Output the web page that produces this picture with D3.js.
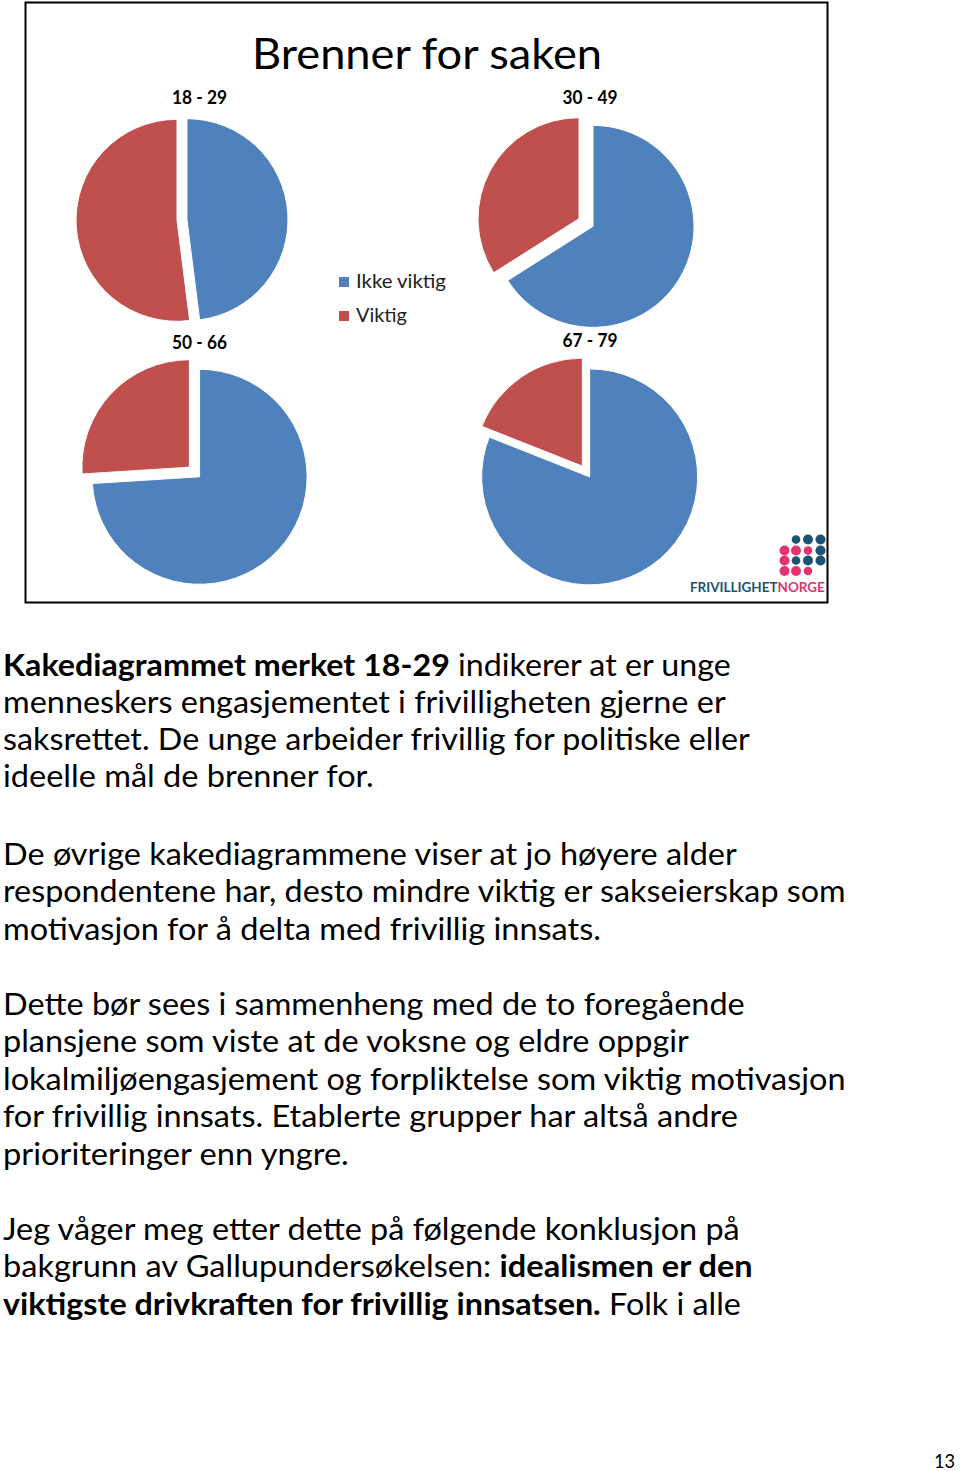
<!DOCTYPE html>
<html><head><meta charset="utf-8">
<script src="https://cdn.jsdelivr.net/npm/d3@7/dist/d3.min.js"></script>
<style>body{margin:0;background:#fff} svg{display:block}</style>
</head><body>
<script>
// ---- data ----
const chartTitle = "Brenner for saken";
const ageGroups = ["18 - 29", "30 - 49", "50 - 66", "67 - 79"];
const seriesNames = ["Ikke viktig", "Viktig"];
const ikkeViktig = [48, 66, 74, 81];
const viktig = [52, 34, 26, 19];
const logoParts = ["FRIVILLIGHET", "NORGE"];
const pageNumber = "13";
const paragraphs = [
  [
    [["Kakediagrammet merket 18-29", true], [" indikerer at er unge", false]],
    [["menneskers engasjementet i frivilligheten gjerne er", false]],
    [["saksrettet. De unge arbeider frivillig for politiske eller", false]],
    [["ideelle mål de brenner for.", false]]
  ],
  [
    [["De øvrige kakediagrammene viser at jo høyere alder", false]],
    [["respondentene har, desto mindre viktig er sakseierskap som", false]],
    [["motivasjon for å delta med frivillig innsats.", false]]
  ],
  [
    [["Dette bør sees i sammenheng med de to foregående", false]],
    [["plansjene som viste at de voksne og eldre oppgir", false]],
    [["lokalmiljøengasjement og forpliktelse som viktig motivasjon", false]],
    [["for frivillig innsats. Etablerte grupper har altså andre", false]],
    [["prioriteringer enn yngre.", false]]
  ],
  [
    [["Jeg våger meg etter dette på følgende konklusjon på", false]],
    [["bakgrunn av Gallupundersøkelsen: ", false], ["idealismen er den", true]],
    [["viktigste drivkraften for frivillig innsatsen.", true], [" Folk i alle", false]]
  ]
];

// ---- layout (positions / styles) ----
const W = 960, H = 1471;
const FONT = "Lato, 'Open Sans', sans-serif";
const colors = d3.scaleOrdinal().domain(seriesNames).range(["#4f81bd", "#c0504d"]);
const pieLayout = [
  {cx: 182, cy: 220, r: 101, ex: 5,   lx: 199.5, ly: 104},
  {cx: 586, cy: 222.5, r: 101, ex: 8, lx: 590,   ly: 104},
  {cx: 194.5, cy: 472, r: 107.5, ex: 7, lx: 199.5, ly: 349},
  {cx: 586, cy: 471.5, r: 108, ex: 6.5, lx: 590, ly: 347}
];
const paraBaselines = [[676, 713, 750, 787], [865, 902, 940], [1015, 1052, 1090, 1127, 1165], [1240, 1277, 1315]];
const paraWidths = [[728, 723, 747, 371], [734, 843, 598], [742, 686, 843, 735, 346], [737, 750, 738]];

const svg = d3.select("body").append("svg").attr("width", W).attr("height", H);
svg.append("rect").attr("width", W).attr("height", H).attr("fill", "#fff");

function fit(sel, targetW, x, y, anchor) {
  sel.attr("x", 0).attr("y", 0).attr("text-anchor", anchor || "start");
  const w = sel.node().getComputedTextLength();
  const s = targetW / w;
  sel.attr("transform", `translate(${x},${y}) scale(${s},1)`);
}

// frame
svg.append("rect").attr("x", 25.5).attr("y", 2.5).attr("width", 802).attr("height", 600)
  .attr("fill", "#fff").attr("stroke", "#000").attr("stroke-width", 2);

// title
fit(svg.append("text").text(chartTitle).attr("font-family", FONT).attr("font-size", 42).attr("fill", "#000"),
  350, 427, 69, "middle");

// pies
const pie = d3.pie().sort(null).value(d => d.value);
ageGroups.forEach((g, i) => {
  const L = pieLayout[i];
  const data = [{name: seriesNames[0], value: ikkeViktig[i]}, {name: seriesNames[1], value: viktig[i]}];
  const arc = d3.arc().innerRadius(0).outerRadius(L.r);
  const gg = svg.append("g").attr("transform", `translate(${L.cx},${L.cy})`);
  gg.selectAll("path").data(pie(data)).join("path")
    .attr("d", arc)
    .attr("fill", d => colors(d.data.name))
    .attr("stroke", "#fff").attr("stroke-width", 1)
    .attr("transform", d => {
      const m = (d.startAngle + d.endAngle) / 2;
      return `translate(${Math.sin(m) * L.ex},${-Math.cos(m) * L.ex})`;
    });
  fit(svg.append("text").text(g).attr("font-family", FONT).attr("font-weight", "bold")
    .attr("font-size", 18).attr("fill", "#000"), 55, L.lx, L.ly, "middle");
});

// legend
const legW = [90, 51];
seriesNames.forEach((s, i) => {
  const y = 277 + i * 34;
  svg.append("rect").attr("x", 339).attr("y", y).attr("width", 10).attr("height", 10).attr("fill", colors(s));
  fit(svg.append("text").text(s).attr("font-family", FONT).attr("font-size", 19.5).attr("fill", "#222"),
    legW[i], 356, y + 11, "start");
});

// logo
const dotRows = [
  [[796, "d", 4.3], [808, "d", 5], [820.5, "d", 5]],
  [[784.5, "p", 5], [796, "p", 5], [808, "p", 4.3], [820.5, "d", 5]],
  [[784.5, "p", 5], [796, "d", 4.3], [808, "d", 5], [820.5, "d", 5]],
  [[784.5, "p", 5], [796, "p", 5], [808, "p", 4.3]]
];
const dotY = [539.5, 550.5, 560.5, 571];
const logoCol = {d: "#1c5370", p: "#e2336e"};
dotRows.forEach((row, ri) => row.forEach(([x, c, r]) => {
  svg.append("circle").attr("cx", x).attr("cy", dotY[ri]).attr("r", r).attr("fill", logoCol[c]);
}));
const lt = svg.append("text").attr("font-family", FONT).attr("font-weight", "bold").attr("font-size", 13.5);
lt.append("tspan").text(logoParts[0]).attr("fill", "#1c5370");
lt.append("tspan").text(logoParts[1]).attr("fill", "#e2336e");
fit(lt, 135, 690, 592, "start");

// paragraphs
paragraphs.forEach((p, pi) => p.forEach((line, li) => {
  const t = svg.append("text").attr("font-family", FONT).attr("font-size", 30.5).attr("fill", "#000");
  line.forEach(([txt, b]) => t.append("tspan").text(txt).attr("font-weight", b ? "bold" : "normal"));
  fit(t, paraWidths[pi][li], 3, paraBaselines[pi][li], "start");
}));

// page number
fit(svg.append("text").text(pageNumber).attr("font-family", FONT).attr("font-size", 20).attr("fill", "#000"),
  21, 934, 1468, "start");
</script>
</body></html>
